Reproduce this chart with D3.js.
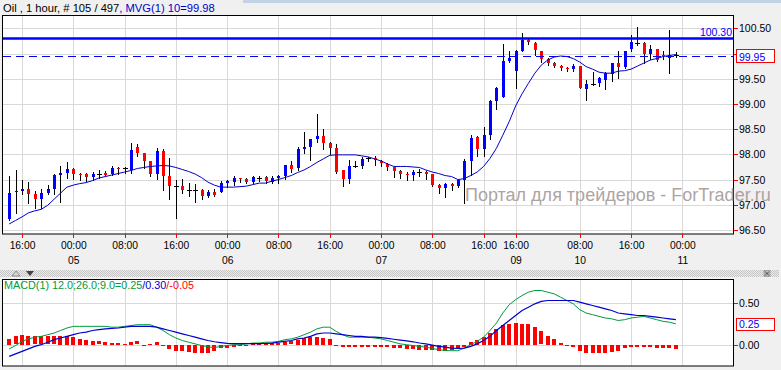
<!DOCTYPE html>
<html><head><meta charset="utf-8">
<script src="https://cdn.jsdelivr.net/npm/d3@7"></script>
<style>body{margin:0;background:#f0f0f0;overflow:hidden} text{font-family:"Liberation Sans",Arial,sans-serif;}</style>
</head><body><svg id="c" width="781" height="370"></svg>
<script>
// ---------- data ----------
const open  = [96.72,97.25,97.28,97.31,97.21,97.11,97.23,97.31,97.60,97.64,97.71,97.61,97.61,97.56,97.62,97.64,97.61,97.73,97.72,97.68,
               98.15,98.03,97.86,97.61,98.07,97.57,97.37,97.37,97.29,97.29,97.29,97.18,97.26,97.26,97.44,97.46,97.53,97.51,97.46,97.53,
               97.55,97.46,97.53,97.57,97.79,97.72,98.10,98.15,98.30,98.36,98.23,98.12,97.68,97.51,97.77,97.77,97.93,97.92,97.86,97.80,
               97.74,97.67,97.62,97.60,97.66,97.66,97.62,97.39,97.34,97.41,97.37,97.50,97.87,98.34,98.11,98.38,99.06,99.14,99.86,99.66,
               100.05,100.27,100.20,100.04,99.90,99.82,99.75,99.71,99.69,99.76,99.30,99.40,99.41,99.48,99.60,99.81,99.74,100.08,100.21,100.20,
               100.00,100.08,99.97,99.91,99.97];
const high  = [97.57,97.68,97.49,97.46,97.28,97.31,97.39,97.61,97.77,97.84,97.72,97.64,97.64,97.66,97.68,97.67,97.76,97.74,97.74,98.23,
               98.20,98.03,97.87,98.12,98.10,97.92,97.49,97.51,97.44,97.41,97.31,97.29,97.31,97.48,97.49,97.57,97.54,97.53,97.57,97.57,
               97.57,97.57,97.59,97.79,97.86,98.15,98.45,98.30,98.80,98.50,98.25,98.21,97.68,97.89,97.86,97.94,97.95,97.97,97.88,97.82,
               97.77,97.69,97.66,97.68,97.71,97.67,97.62,97.41,97.43,97.43,97.52,97.90,98.38,98.36,98.54,99.08,99.34,100.19,100.04,100.07,
               100.40,100.29,100.22,100.05,99.92,99.84,99.77,99.73,99.79,99.76,99.47,99.64,99.54,99.64,99.82,100.05,100.05,100.37,100.53,100.22,
               100.16,100.08,100.04,100.47,100.03];
const low   = [96.70,96.83,97.21,97.04,96.93,96.93,97.21,97.21,97.06,97.54,97.51,97.49,97.48,97.49,97.54,97.57,97.59,97.62,97.64,97.64,
               97.97,97.72,97.57,97.52,97.29,97.11,96.73,97.24,97.18,97.06,97.12,97.16,97.17,97.25,97.35,97.39,97.46,97.44,97.44,97.48,
               97.44,97.44,97.44,97.52,97.66,97.68,98.03,97.88,98.25,98.10,98.01,97.64,97.38,97.43,97.74,97.72,97.86,97.79,97.76,97.69,
               97.56,97.54,97.49,97.49,97.57,97.52,97.37,97.24,97.16,97.29,97.35,97.04,97.59,97.97,97.97,98.30,98.89,99.14,99.84,99.31,
               100.04,100.19,99.97,99.84,99.77,99.74,99.67,99.66,99.66,99.32,99.08,99.38,99.36,99.30,99.46,99.51,99.71,100.04,100.17,99.82,
               99.89,99.86,99.90,99.62,99.93];
const close = [97.23,97.28,97.31,97.21,97.11,97.23,97.31,97.59,97.64,97.71,97.61,97.59,97.56,97.61,97.62,97.59,97.73,97.71,97.72,98.09,
               98.03,97.86,97.61,98.07,97.57,97.37,97.37,97.29,97.29,97.29,97.18,97.26,97.19,97.43,97.47,97.54,97.51,97.46,97.55,97.53,
               97.48,97.53,97.57,97.79,97.71,98.10,98.14,98.30,98.36,98.23,98.12,97.66,97.51,97.77,97.77,97.91,97.93,97.88,97.82,97.74,
               97.67,97.61,97.60,97.66,97.66,97.62,97.39,97.34,97.41,97.37,97.50,97.87,98.33,98.11,98.38,99.06,99.32,99.85,99.92,100.04,
               100.27,100.22,100.06,99.90,99.82,99.76,99.71,99.69,99.76,99.32,99.40,99.40,99.52,99.61,99.81,99.74,100.05,100.22,100.21,100.00,
               100.08,99.88,99.95,99.97,99.97];
const ma    = [96.62,96.69,96.76,96.84,96.88,96.91,96.99,97.11,97.23,97.35,97.39,97.42,97.44,97.48,97.53,97.56,97.59,97.62,97.65,97.68,
               97.72,97.74,97.76,97.77,97.78,97.77,97.74,97.70,97.66,97.61,97.54,97.45,97.39,97.35,97.35,97.35,97.36,97.37,97.40,97.43,
               97.43,97.47,97.50,97.54,97.58,97.64,97.69,97.76,97.84,97.91,97.98,97.99,97.99,97.99,97.99,97.97,97.95,97.91,97.87,97.81,
               97.76,97.76,97.76,97.75,97.74,97.69,97.65,97.62,97.58,97.56,97.50,97.52,97.58,97.65,97.76,97.92,98.12,98.38,98.65,98.96,
               99.20,99.41,99.61,99.77,99.87,99.93,99.95,99.94,99.90,99.83,99.74,99.69,99.63,99.61,99.61,99.65,99.66,99.69,99.75,99.81,
               99.87,99.90,99.94,99.96,99.98];
const macd  = [-0.05,-0.01,0.04,0.07,0.09,0.10,0.12,0.14,0.17,0.20,0.22,0.22,0.22,0.22,0.22,0.22,0.21,0.21,0.22,0.23,
               0.24,0.24,0.24,0.21,0.17,0.12,0.08,0.05,0.03,0.01,-0.01,-0.025,-0.035,-0.02,-0.01,0.00,0.00,0.01,0.02,0.02,
               0.03,0.03,0.04,0.06,0.07,0.09,0.12,0.15,0.19,0.21,0.21,0.16,0.12,0.09,0.09,0.09,0.09,0.08,0.07,0.05,
               0.03,0.01,0.00,-0.01,-0.02,-0.03,-0.045,-0.06,-0.07,-0.072,-0.072,-0.04,0.00,0.04,0.09,0.17,0.26,0.38,0.48,0.54,
               0.59,0.63,0.65,0.65,0.63,0.61,0.57,0.53,0.49,0.42,0.38,0.36,0.34,0.32,0.31,0.29,0.30,0.32,0.33,0.34,
               0.32,0.30,0.28,0.27,0.25];
const signal= [-0.14,-0.11,-0.08,-0.05,-0.02,0.00,0.03,0.06,0.08,0.10,0.12,0.14,0.15,0.17,0.18,0.19,0.195,0.20,0.21,0.22,
               0.22,0.22,0.22,0.21,0.19,0.17,0.15,0.13,0.11,0.09,0.07,0.05,0.035,0.025,0.015,0.012,0.012,0.012,0.012,0.012,
               0.015,0.02,0.03,0.04,0.05,0.07,0.08,0.10,0.13,0.14,0.14,0.13,0.12,0.11,0.10,0.10,0.09,0.09,0.085,0.075,
               0.065,0.055,0.045,0.035,0.02,0.01,-0.005,-0.02,-0.03,-0.04,-0.045,-0.04,-0.02,0.01,0.05,0.10,0.17,0.23,0.29,0.35,
               0.41,0.45,0.49,0.52,0.53,0.53,0.53,0.53,0.53,0.51,0.49,0.47,0.45,0.43,0.41,0.38,0.37,0.36,0.35,0.35,
               0.34,0.33,0.32,0.31,0.30];
const hist  = [0.07,0.10,0.12,0.11,0.10,0.10,0.10,0.10,0.11,0.11,0.09,0.07,0.06,0.05,0.04,0.03,0.02,0.02,0.01,0.03,
               0.04,0.00,0.01,0.03,0.00,-0.05,-0.07,-0.07,-0.08,-0.09,-0.09,-0.09,-0.07,-0.04,-0.03,-0.02,-0.01,-0.005,0.02,0.02,
               0.02,0.02,0.02,0.03,0.04,0.06,0.08,0.09,0.09,0.08,0.07,0.00,-0.02,-0.02,-0.02,-0.02,-0.02,-0.02,-0.02,-0.02,
               -0.03,-0.04,-0.05,-0.05,-0.06,-0.06,-0.06,-0.07,-0.07,-0.06,-0.04,-0.02,0.03,0.06,0.09,0.14,0.19,0.24,0.25,0.26,
               0.25,0.25,0.21,0.16,0.11,0.07,0.02,0.00,-0.02,-0.07,-0.09,-0.10,-0.10,-0.09,-0.08,-0.07,-0.03,-0.02,-0.02,-0.02,
               -0.02,-0.04,-0.04,-0.04,-0.05];
const tickIdx  = [2,10,18,26,34,42,50,58,66,74,79,89,97,105];
const tickTime = ["16:00","00:00","08:00","16:00","00:00","08:00","16:00","00:00","08:00","16:00","16:00","08:00","16:00","00:00"];
const tickDate = ["","05","","","06","","","07","","","09","10","","11"];
const priceTicks = [96.5,97.0,97.5,98.0,98.5,99.0,99.5,100.0,100.5];
const macdTicks = [0.0,0.5];
const levelLine = 100.30, lastPrice = 99.95, macdLast = 0.25;
const titleBlack = "Oil , 1 hour, # 105 / 497", titleBlue = ", MVG(1) 10=99.98";
const macdLabel = ["MACD(1) 12.0;26.0;9.0=0.25", "/0.30", "/-0.05"];
const watermark = "Портал для трейдеров - ForTrader.ru";

// ---------- drawing ----------
const svg = d3.select("#c");
const W = 781, H = 370;
const P = {l:3, r:733, t:16, b:234};       // main panel
const M = {l:3, r:733, t:280, b:366};      // macd panel
const x = d3.scaleLinear().domain([0,105]).range([9.2,682.3]);
const y = d3.scaleLinear().domain([96.5,100.5]).range([230,28.3]);
const ym = d3.scaleLinear().domain([0,0.5]).range([344.7,303]);
const BLUE="#0000ff", RED="#ff0000", GRID="#d9d9d9";

svg.append("rect").attr("width",W).attr("height",H).attr("fill","#f0f0f0");
svg.append("rect").attr("x",243).attr("y",0).attr("width",W-243).attr("height",3).attr("fill","#c3d3e6");

// title
const tt = svg.append("text").attr("x",3).attr("y",12).attr("font-size",11.2);
tt.append("tspan").attr("fill","#000").text(titleBlack);
tt.append("tspan").attr("fill","#0000cc").text(titleBlue);

// main panel
svg.append("rect").attr("x",P.l-0.5).attr("y",P.t-0.5).attr("width",P.r-P.l+1).attr("height",P.b-P.t+0.5).attr("fill","#fff");
const defs = svg.append("defs");
defs.append("clipPath").attr("id","cp").append("rect").attr("x",P.l).attr("y",P.t).attr("width",P.r-P.l).attr("height",P.b-P.t);
defs.append("clipPath").attr("id","cm").append("rect").attr("x",M.l).attr("y",M.t).attr("width",M.r-M.l).attr("height",M.b-M.t);
const pat = defs.append("pattern").attr("id","dots").attr("width",2).attr("height",2).attr("patternUnits","userSpaceOnUse");
pat.append("rect").attr("width",2).attr("height",2).attr("fill","#ececec");
pat.append("rect").attr("width",1).attr("height",1).attr("fill","#c4c4c4");
pat.append("rect").attr("x",1).attr("y",1).attr("width",1).attr("height",1).attr("fill","#c4c4c4");

const g = svg.append("g").attr("clip-path","url(#cp)");
g.selectAll(".vg").data(tickIdx).join("line")
  .attr("x1",d=>Math.round(x(d))+0.5).attr("x2",d=>Math.round(x(d))+0.5)
  .attr("y1",P.t).attr("y2",P.b).attr("stroke",GRID);
g.selectAll(".hg").data(priceTicks).join("line")
  .attr("x1",P.l).attr("x2",P.r)
  .attr("y1",d=>Math.round(y(d))+0.5).attr("y2",d=>Math.round(y(d))+0.5).attr("stroke",GRID);

// candles
const idx = d3.range(open.length);
g.selectAll(".wick").data(idx).join("line")
  .attr("x1",i=>Math.round(x(i))+0.5).attr("x2",i=>Math.round(x(i))+0.5)
  .attr("y1",i=>Math.round(y(high[i]))).attr("y2",i=>Math.round(y(low[i]))+1)
  .attr("stroke","#000");
g.selectAll(".body").data(idx.filter(i=>open[i]!==close[i])).join("rect")
  .attr("x",i=>Math.round(x(i))-1).attr("width",3)
  .attr("y",i=>Math.round(y(Math.max(open[i],close[i]))))
  .attr("height",i=>Math.max(1,Math.round(y(Math.min(open[i],close[i])))-Math.round(y(Math.max(open[i],close[i])))))
  .attr("fill",i=>close[i]>open[i]?BLUE:RED);
g.selectAll(".doji").data(idx.filter(i=>open[i]===close[i])).join("rect")
  .attr("x",i=>Math.round(x(i))-2).attr("width",5)
  .attr("y",i=>Math.round(y(open[i]))).attr("height",1).attr("fill","#000");

// moving average
g.append("path").datum(idx).attr("fill","none").attr("stroke","#0000c8").attr("stroke-width",1)
  .attr("d",d3.line().x(i=>x(i)).y(i=>y(ma[i])));

// level lines
g.append("line").attr("x1",P.l).attr("x2",P.r).attr("y1",y(levelLine)).attr("y2",y(levelLine))
  .attr("stroke",BLUE).attr("stroke-width",2.5);
g.append("line").attr("x1",P.l).attr("x2",P.r).attr("y1",Math.round(y(lastPrice))+0.5).attr("y2",Math.round(y(lastPrice))+0.5)
  .attr("stroke",BLUE).attr("stroke-width",1).attr("stroke-dasharray","8,5");
svg.append("text").attr("x",P.r-1).attr("y",y(levelLine)-2.5).attr("text-anchor","end")
  .attr("font-size",10.5).attr("fill","#0000ff").text(levelLine.toFixed(2));

svg.append("rect").attr("x",P.l-0.5).attr("y",P.t-0.5).attr("width",P.r-P.l+1).attr("height",P.b-P.t+0.5)
  .attr("fill","none").attr("stroke","#000");

// right axis (the label hidden behind the last-price box is not drawn, as in the original)
svg.selectAll(".rt").data(priceTicks).join("line")
  .attr("x1",P.r+1).attr("x2",P.r+5).attr("y1",d=>Math.round(y(d))+0.5).attr("y2",d=>Math.round(y(d))+0.5).attr("stroke",RED);
svg.selectAll(".rl").data(priceTicks.filter(d=>Math.abs(y(d)-y(lastPrice))>9)).join("text")
  .attr("x",739).attr("y",d=>y(d)+4).attr("font-size",10.5).attr("fill","#000").text(d=>d.toFixed(2));
svg.append("rect").attr("x",736.5).attr("y",Math.round(y(lastPrice))-6.5).attr("width",38).attr("height",13)
  .attr("fill","#fff").attr("stroke",RED);
svg.append("text").attr("x",739).attr("y",y(lastPrice)+4.5).attr("font-size",10.5).attr("fill","#0000ff").text(lastPrice.toFixed(2));

// bottom axis
svg.selectAll(".bt").data(tickIdx).join("line")
  .attr("x1",d=>Math.round(x(d))+0.5).attr("x2",d=>Math.round(x(d))+0.5).attr("y1",P.b).attr("y2",P.b+4).attr("stroke",RED);
svg.selectAll(".btl").data(tickIdx).join("text")
  .attr("x",d=>x(d)+0.5).attr("y",249).attr("text-anchor","middle").attr("font-size",10.3).attr("fill","#000")
  .text((d,i)=>tickTime[i]);
svg.selectAll(".bdl").data(tickIdx).join("text")
  .attr("x",d=>x(d)+0.5).attr("y",264).attr("text-anchor","middle").attr("font-size",10.3).attr("fill","#000")
  .text((d,i)=>tickDate[i]);

// watermark
svg.append("text").attr("x",465).attr("y",201).attr("font-size",18).attr("fill","#a39797").attr("fill-opacity",0.9)
  .text(watermark);

// separator bar
svg.append("rect").attr("x",0).attr("y",270).attr("width",W-2).attr("height",7).attr("fill","url(#dots)");
svg.append("path").attr("d","M12,276 L16,271 L20,276 Z").attr("fill","#d8d8d8").attr("stroke","#777").attr("stroke-width",0.8);
svg.append("path").attr("d","M26,271 L34,271 L30,276 Z").attr("fill","#444");
svg.append("rect").attr("x",764).attr("y",270.5).attr("width",6).attr("height",6).attr("fill","#bbb").attr("stroke","#888").attr("stroke-width",0.6);
svg.append("path").attr("d","M765,271.5 L769,275.5 M769,271.5 L765,275.5").attr("stroke","#333").attr("stroke-width",0.8);

// macd panel
svg.append("rect").attr("x",M.l-0.5).attr("y",M.t-0.5).attr("width",M.r-M.l+1).attr("height",M.b-M.t+0.5).attr("fill","#fff");
const gm = svg.append("g").attr("clip-path","url(#cm)");
gm.selectAll(".vg").data(tickIdx).join("line")
  .attr("x1",d=>Math.round(x(d))+0.5).attr("x2",d=>Math.round(x(d))+0.5)
  .attr("y1",M.t).attr("y2",M.b).attr("stroke",GRID);
gm.selectAll(".hg").data(macdTicks).join("line")
  .attr("x1",M.l).attr("x2",M.r)
  .attr("y1",d=>Math.round(ym(d))+0.5).attr("y2",d=>Math.round(ym(d))+0.5).attr("stroke",GRID);
gm.selectAll(".hb").data(idx).join("rect")
  .attr("x",i=>Math.round(x(i))-2).attr("width",4)
  .attr("y",i=>Math.round(Math.min(ym(hist[i]),ym(0))))
  .attr("height",i=>Math.max(1,Math.round(Math.abs(ym(hist[i])-ym(0)))))
  .attr("fill",RED);
gm.append("path").datum(idx).attr("fill","none").attr("stroke","#009a3c").attr("stroke-width",1)
  .attr("d",d3.line().x(i=>x(i)).y(i=>ym(macd[i])));
gm.append("path").datum(idx).attr("fill","none").attr("stroke","#0000d0").attr("stroke-width",1.2)
  .attr("d",d3.line().x(i=>x(i)).y(i=>ym(signal[i])));
svg.append("rect").attr("x",M.l-0.5).attr("y",M.t-0.5).attr("width",M.r-M.l+1).attr("height",M.b-M.t+0.5)
  .attr("fill","none").attr("stroke","#000");
const ml = svg.append("text").attr("x",4).attr("y",289).attr("font-size",10.8);
ml.append("tspan").attr("fill","#009a3c").text(macdLabel[0]);
ml.append("tspan").attr("fill","#0000cc").text(macdLabel[1]);
ml.append("tspan").attr("fill","#ff0000").text(macdLabel[2]);
svg.selectAll(".mt").data(macdTicks).join("line")
  .attr("x1",M.r+1).attr("x2",M.r+5).attr("y1",d=>Math.round(ym(d))+0.5).attr("y2",d=>Math.round(ym(d))+0.5).attr("stroke",RED);
svg.selectAll(".mtl").data(macdTicks).join("text")
  .attr("x",739).attr("y",d=>ym(d)+4).attr("font-size",10.5).attr("fill","#000").text(d=>d.toFixed(2));
svg.append("rect").attr("x",736.5).attr("y",Math.round(ym(macdLast))-5.5).attr("width",38).attr("height",12)
  .attr("fill","#fff").attr("stroke",RED);
svg.append("text").attr("x",739).attr("y",ym(macdLast)+4.5).attr("font-size",10.5).attr("fill","#0000ff").text(macdLast.toFixed(2));
</script></body></html>
